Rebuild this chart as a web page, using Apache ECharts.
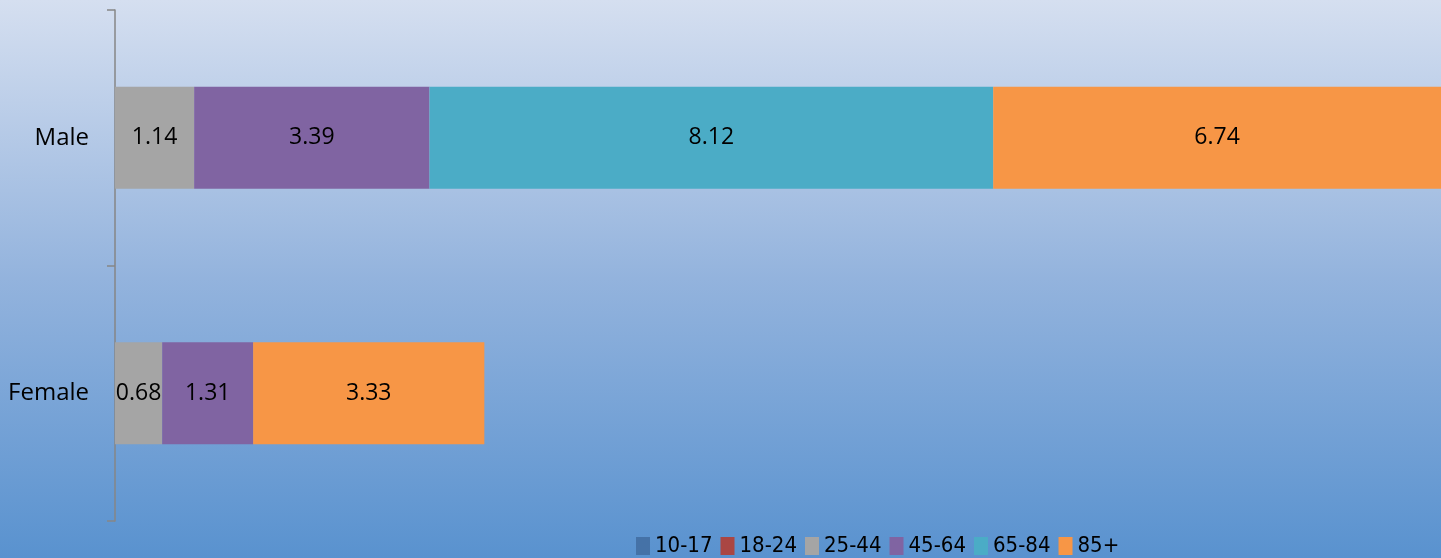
<!DOCTYPE html>
<html>
<head>
<meta charset="utf-8">
<script src="https://cdn.jsdelivr.net/npm/echarts@6/dist/echarts.min.js"></script>
<style>
html,body{margin:0;padding:0;}
#c{width:1441px;height:558px;}
</style>
</head>
<body>
<div id="c"></div>
<script>
var categories = ['Male', 'Female'];
var seriesNames = ['10-17', '18-24', '25-44', '45-64', '65-84', '85+'];
var v10_17 = [null, null];
var v18_24 = [null, null];
var v25_44 = [1.14, 0.68];
var v45_64 = [3.39, 1.31];
var v65_84 = [8.12, null];
var v85plus = [6.74, 3.33];
var colors = ['#4572a7', '#aa4643', '#a5a5a5', '#8064a2', '#4bacc6', '#f79646'];

var values = [v10_17, v18_24, v25_44, v45_64, v65_84, v85plus];
var FONT = "'Open Sans', sans-serif";
var LEGEND_FONT = "'DejaVu Sans Condensed', sans-serif";

var chart = echarts.init(document.getElementById('c'));
chart.setOption({
  animation: false,
  backgroundColor: {
    type: 'linear', x: 0, y: 0, x2: 0, y2: 1,
    colorStops: [
      {offset: 0, color: '#d5dff0'},
      {offset: 0.5, color: '#93b3dd'},
      {offset: 1, color: '#5992cf'}
    ]
  },
  color: colors,
  textStyle: {fontFamily: FONT},
  legend: {
    data: seriesNames,
    left: 636,
    top: 535,
    padding: 0,
    itemWidth: 14,
    itemHeight: 18,
    itemGap: 8,
    icon: 'rect',
    textStyle: {fontSize: 22, color: '#000', fontFamily: LEGEND_FONT}
  },
  grid: {left: 115, top: 10, right: 0, height: 511, containLabel: false},
  xAxis: {
    type: 'value', min: 0, max: 19.1, show: false,
    splitLine: {show: false}
  },
  yAxis: {
    type: 'category',
    data: categories,
    inverse: true,
    axisLine: {show: true, lineStyle: {color: '#868686', width: 1.5}},
    axisTick: {show: true, length: 8, lineStyle: {color: '#868686', width: 1.5}},
    axisLabel: {fontSize: 24, color: '#000', margin: 26, fontFamily: FONT}
  },
  series: seriesNames.map(function (name, i) {
    return {
      name: name,
      type: 'bar',
      stack: 'total',
      barWidth: 102,
      data: values[i],
      itemStyle: {color: colors[i]},
      label: {
        show: true,
        position: 'inside',
        color: '#000',
        fontSize: 23,
        fontFamily: FONT,
        formatter: function (p) { return p.value == null ? '' : p.value.toFixed(2); }
      }
    };
  })
});
</script>
</body>
</html>
